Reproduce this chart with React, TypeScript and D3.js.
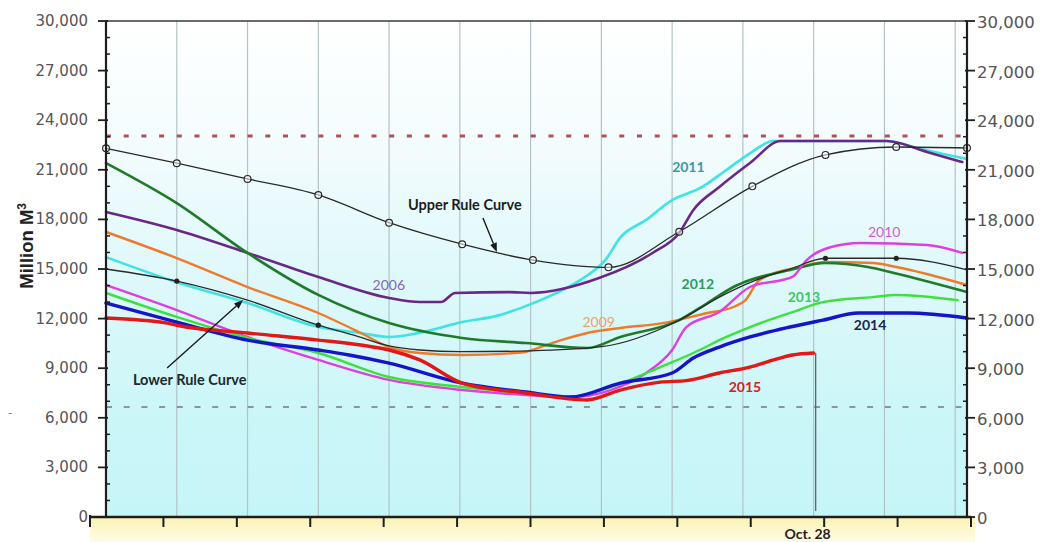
import React from 'react';
import * as d3 from 'd3';

type P = [number, number];

// axis tick values
const yMajorTicks = [0, 3000, 6000, 9000, 12000, 15000, 18000, 21000, 24000, 27000, 30000];
const yMinorTicks = d3.range(0, 30001, 1000).filter((v) => v % 3000 !== 0);
const gridDays = [30, 60, 90, 120, 150, 180, 210, 240, 270, 300, 330, 360];
const bottomTicks = [0, 1, 2, 3, 4, 5, 6, 7, 8, 9, 10, 11, 12];
const bottomLabel = 'Oct. 28';
const bottomLabelDay = 300;

// reference levels
const maxLevel = 23050;
const minLevel = 6650;

// series [day of year, storage in Million M3]
const upperRule: P[] = [
  [0, 22300], [30, 21400], [60, 20450], [90, 19480], [120, 17800], [151, 16500],
  [181, 15540], [213, 15100], [243, 17250], [274, 20000], [305, 21900], [335, 22380], [365, 22320],
];
const upperRuleMarkers = upperRule;

const lowerRule: P[] = [
  [0, 15000], [30, 14270], [60, 13120], [90, 11600], [105, 11000], [120, 10350], [133, 10100],
  [150, 10000], [180, 10050], [210, 10300], [243, 11900], [260, 13300], [275, 14300],
  [290, 15000], [305, 15650], [335, 15650], [365, 14950],
];
const lowerRuleMarkers: P[] = [[30, 14270], [90, 11600], [305, 15650], [335, 15650]];

const s2006: P[] = [
  [0, 18450], [30, 17360], [60, 15970], [90, 14520], [120, 13250], [133, 13000], [142, 13000],
  [148, 13550], [171, 13600], [180, 13550], [209, 14450], [232, 16000], [243, 17180],
  [249, 18570], [260, 19960], [273, 21410], [286, 22740], [331, 22740], [348, 22080], [363, 21470],
];
const s2011: P[] = [
  [0, 15720], [30, 14200], [60, 12940], [90, 11490], [108, 11130], [120, 10890], [133, 11150],
  [151, 11790], [166, 12180], [176, 12650], [189, 13420], [201, 14330], [212, 15600], [218, 16900],
  [229, 17970], [240, 19170], [252, 19900], [263, 20990], [273, 22000], [283, 22740],
  [331, 22740], [344, 22300], [365, 21650],
];
const s2012: P[] = [
  [0, 21410], [30, 18990], [60, 15970], [90, 13430], [120, 11730], [151, 10830], [178, 10520],
  [204, 10220], [218, 10890], [243, 11910], [255, 12940], [266, 13910], [273, 14330],
  [290, 14940], [305, 15360], [323, 15120], [334, 14760], [365, 13610],
];
const s2009: P[] = [
  [0, 17240], [30, 15660], [60, 13910], [90, 12340], [108, 11130], [120, 10280], [133, 9920],
  [151, 9800], [176, 9950], [189, 10520], [204, 11130], [218, 11430], [236, 11730], [255, 12340],
  [266, 12700], [271, 13100], [277, 14330], [294, 15120], [305, 15420], [325, 15360],
  [335, 15120], [365, 14030],
];
const s2010: P[] = [
  [0, 14030], [30, 12520], [60, 10890], [90, 9500], [120, 8290], [151, 7680], [178, 7380],
  [197, 7260], [214, 7680], [229, 8710], [240, 10100], [246, 11490], [260, 12400], [273, 13910],
  [291, 14520], [297, 15540], [306, 16270], [320, 16570], [348, 16450], [363, 15970],
];
const s2013: P[] = [
  [0, 13550], [30, 12100], [60, 10830], [90, 9920], [120, 8470], [151, 7860], [178, 7500],
  [197, 7260], [214, 7860], [235, 9070], [249, 9920], [263, 10890], [273, 11490], [290, 12340],
  [304, 13000], [325, 13300], [335, 13430], [361, 13120],
];
const s2014: P[] = [
  [0, 12940], [30, 11790], [60, 10700], [90, 10100], [103, 9800], [120, 9310], [151, 8100],
  [178, 7560], [197, 7260], [218, 8100], [240, 8710], [249, 9620], [260, 10280], [273, 10890],
  [290, 11490], [304, 11910], [319, 12340], [340, 12340], [365, 12040],
];
const s2015: P[] = [
  [0, 12040], [26, 11730], [30, 11600], [60, 11130], [90, 10700], [108, 10400], [120, 10100],
  [133, 9500], [151, 8100], [178, 7500], [204, 7080], [218, 7680], [235, 8160], [246, 8250],
  [260, 8710], [273, 9070], [283, 9500], [291, 9800], [300, 9920],
];

const seriesOrder = [
  { name: '2011', data: s2011, color: '#3fe3e3', width: 2.6 },
  { name: '2006', data: s2006, color: '#6a2787', width: 2.6 },
  { name: '2009', data: s2009, color: '#f07a2c', width: 2.4 },
  { name: '2012', data: s2012, color: '#1f7a2a', width: 2.6 },
  { name: '2010', data: s2010, color: '#e03fe0', width: 2.4 },
  { name: '2013', data: s2013, color: '#3ee03e', width: 2.4 },
  { name: '2014', data: s2014, color: '#1414c8', width: 3.4 },
  { name: '2015', data: s2015, color: '#e31717', width: 3.4 },
];

// labels [day, value] anchors
const seriesLabels = [
  { text: '2006', day: 113, value: 14030, color: '#8466b0', bold: false },
  { text: '2011', day: 240, value: 21170, color: '#3a98a8', bold: true },
  { text: '2010', day: 323, value: 17240, color: '#d25ad2', bold: false },
  { text: '2012', day: 244, value: 14090, color: '#2e9a5c', bold: true },
  { text: '2013', day: 289, value: 13300, color: '#44c464', bold: true },
  { text: '2009', day: 202, value: 11790, color: '#f0a264', bold: false },
  { text: '2014', day: 317, value: 11610, color: '#1c2648', bold: true },
  { text: '2015', day: 264, value: 7860, color: '#d42020', bold: true },
];
const upperLabel = { text: 'Upper Rule Curve', day: 128, value: 18870, tail: [159.8, 18084] as P, tip: [165.7, 16030] as P };
const lowerLabel = { text: 'Lower Rule Curve', day: 11.4, value: 8290, tail: [25.9, 9010] as P, tip: [58.1, 13120] as P };

export default function App() {
  const W = 1042;
  const H = 542;
  const left = 106, right = 967, top = 21, bottom = 517;
  const x = d3.scaleLinear().domain([0, 365]).range([left, right]);
  const y = d3.scaleLinear().domain([0, 30000]).range([bottom, top]);
  const xb = d3.scaleLinear().domain([0, 12]).range([90, 971]);
  const line = d3.line<P>().x((d) => x(d[0])).y((d) => y(d[1])).curve(d3.curveMonotoneX);
  const fmt = d3.format(',');
  const last2015 = s2015[s2015.length - 1];

  const arrow = (tail: P, tip: P) => {
    const x1 = x(tail[0]), y1 = y(tail[1]), x2 = x(tip[0]), y2 = y(tip[1]);
    const ang = Math.atan2(y2 - y1, x2 - x1);
    const L = 9, Wd = 3.5;
    const bx = x2 - L * Math.cos(ang), by = y2 - L * Math.sin(ang);
    const p1 = [bx + Wd * Math.sin(ang), by - Wd * Math.cos(ang)];
    const p2 = [bx - Wd * Math.sin(ang), by + Wd * Math.cos(ang)];
    return (
      <g>
        <line x1={x1} y1={y1} x2={bx} y2={by} stroke="#1a1a1a" strokeWidth={1.4} />
        <polygon points={`${x2},${y2} ${p1[0]},${p1[1]} ${p2[0]},${p2[1]}`} fill="#1a1a1a" />
      </g>
    );
  };

  return (
    <svg width={W} height={H} style={{ position: 'absolute', left: 0, top: 0, background: '#ffffff' }}>
      <defs>
        <linearGradient id="plotBg" x1="0" y1="0" x2="0" y2="1">
          <stop offset="0%" stopColor="#ffffff" />
          <stop offset="25%" stopColor="#f3fcfd" />
          <stop offset="55%" stopColor="#dcf8fa" />
          <stop offset="80%" stopColor="#cbf6f8" />
          <stop offset="100%" stopColor="#c6f5f8" />
        </linearGradient>
        <linearGradient id="bandBg" x1="0" y1="0" x2="0" y2="1">
          <stop offset="0%" stopColor="#fbf2b4" />
          <stop offset="100%" stopColor="#fffbe6" />
        </linearGradient>
      </defs>

      {/* bottom yellow band */}
      <rect x={xb(0)} y={bottom} width={xb(12) - xb(0) + 4} height={H - bottom} fill="url(#bandBg)" />
      {/* plot background */}
      <rect x={left} y={top} width={right - left} height={bottom - top} fill="url(#plotBg)" />

      {/* vertical gridlines */}
      {gridDays.map((d) => (
        <line key={d} x1={x(d)} x2={x(d)} y1={top} y2={bottom} stroke="#b3c3c6" strokeWidth={1.2} />
      ))}

      {/* reference levels */}
      <line x1={left} x2={right} y1={y(maxLevel)} y2={y(maxLevel)} stroke="#b0505c" strokeWidth={3} strokeDasharray="5 12.7" />
      <line x1={left} x2={right} y1={y(minLevel)} y2={y(minLevel)} stroke="#8a94a8" strokeWidth={2} strokeDasharray="6 11.7" />

      {/* series */}
      {seriesOrder.map((s) => (
        <path key={s.name} d={line(s.data) || ''} fill="none" stroke={s.color} strokeWidth={s.width} strokeLinejoin="round" strokeLinecap="round" />
      ))}

      {/* rule curves */}
      <path d={line(lowerRule) || ''} fill="none" stroke="#2a2a2a" strokeWidth={1.3} />
      {lowerRuleMarkers.map((d, i) => (
        <circle key={i} cx={x(d[0])} cy={y(d[1])} r={2.6} fill="#222" />
      ))}
      <path d={line(upperRule) || ''} fill="none" stroke="#2a2a2a" strokeWidth={1.3} />
      {upperRuleMarkers.map((d, i) => (
        <circle key={i} cx={x(d[0])} cy={y(d[1])} r={3.4} fill="rgba(255,255,255,0.55)" stroke="#2a2a2a" strokeWidth={1.2} />
      ))}

      {/* Oct 28 marker line */}
      <line x1={x(last2015[0]) + 2} x2={x(last2015[0]) + 2} y1={y(last2015[1])} y2={bottom - 6} stroke="#5a6670" strokeWidth={1.3} />

      {/* annotations */}
      {arrow(upperLabel.tail, upperLabel.tip)}
      {arrow(lowerLabel.tail, lowerLabel.tip)}
      <text x={x(upperLabel.day)} y={y(upperLabel.value) + 5} fontFamily="Lato, 'Open Sans', sans-serif" fontWeight="bold" fontSize={14.5} fill="#1e1e1e">{upperLabel.text}</text>
      <text x={x(lowerLabel.day)} y={y(lowerLabel.value) + 5} fontFamily="Lato, 'Open Sans', sans-serif" fontWeight="bold" fontSize={14.5} fill="#1e2a30">{lowerLabel.text}</text>
      {seriesLabels.map((l) => (
        <text key={l.text} x={x(l.day)} y={y(l.value) + 5} fontFamily="Lato, 'Open Sans', sans-serif" fontWeight={l.bold ? 'bold' : 'normal'} fontSize={14} fill={l.color}>{l.text}</text>
      ))}

      {/* frame */}
      <line x1={left} x2={right} y1={top} y2={top} stroke="#3a3a3a" strokeWidth={1.5} />
      <line x1={left} x2={left} y1={top} y2={bottom} stroke="#1e1e1e" strokeWidth={2.2} />
      <line x1={right} x2={right} y1={top} y2={bottom} stroke="#1e1e1e" strokeWidth={2.2} />
      <line x1={xb(0)} x2={xb(12)} y1={bottom} y2={bottom} stroke="#1e1e1e" strokeWidth={2.4} />

      {/* y ticks */}
      {yMajorTicks.map((v) => (
        <g key={v}>
          <line x1={left - 8} x2={left + 2} y1={y(v)} y2={y(v)} stroke="#1e1e1e" strokeWidth={1.8} />
          <line x1={right - 2} x2={right + 8} y1={y(v)} y2={y(v)} stroke="#1e1e1e" strokeWidth={1.8} />
          <text x={88} y={y(v) + 5} textAnchor="end" fontFamily="'DejaVu Sans', Verdana, sans-serif" fontSize={15} fill="#555">{fmt(v)}</text>
          <text x={977} y={y(v) + 7} textAnchor="start" fontFamily="'DejaVu Sans', Verdana, sans-serif" fontSize={16.5} fill="#555">{fmt(v)}</text>
        </g>
      ))}
      {yMinorTicks.map((v) => (
        <g key={v}>
          <line x1={left} x2={left + 4} y1={y(v)} y2={y(v)} stroke="#1e1e1e" strokeWidth={1.5} />
          <line x1={right - 4} x2={right} y1={y(v)} y2={y(v)} stroke="#1e1e1e" strokeWidth={1.5} />
        </g>
      ))}

      {/* bottom ticks */}
      {bottomTicks.map((t) => (
        <line key={t} x1={xb(t)} x2={xb(t)} y1={t === 0 ? bottom - 2 : bottom} y2={bottom + 10} stroke="#1e1e1e" strokeWidth={2} />
      ))}
      <text x={x(bottomLabelDay) - 6} y={539} textAnchor="middle" fontFamily="Lato, 'Open Sans', sans-serif" fontWeight="bold" fontSize={14} fill="#222">{bottomLabel}</text>

      {/* y axis title */}
      <text transform={`translate(33, ${y(16400)}) rotate(-90)`} textAnchor="middle" fontFamily="'Liberation Sans', Arial, sans-serif" fontWeight="bold" fontSize={18.5} fill="#222">
        Million M<tspan baselineShift="super" fontSize={12}>3</tspan>
      </text>
      <text x={8} y={y(minLevel) + 10} fontFamily="'DejaVu Sans', sans-serif" fontSize={12} fill="#888">-</text>
    </svg>
  );
}
